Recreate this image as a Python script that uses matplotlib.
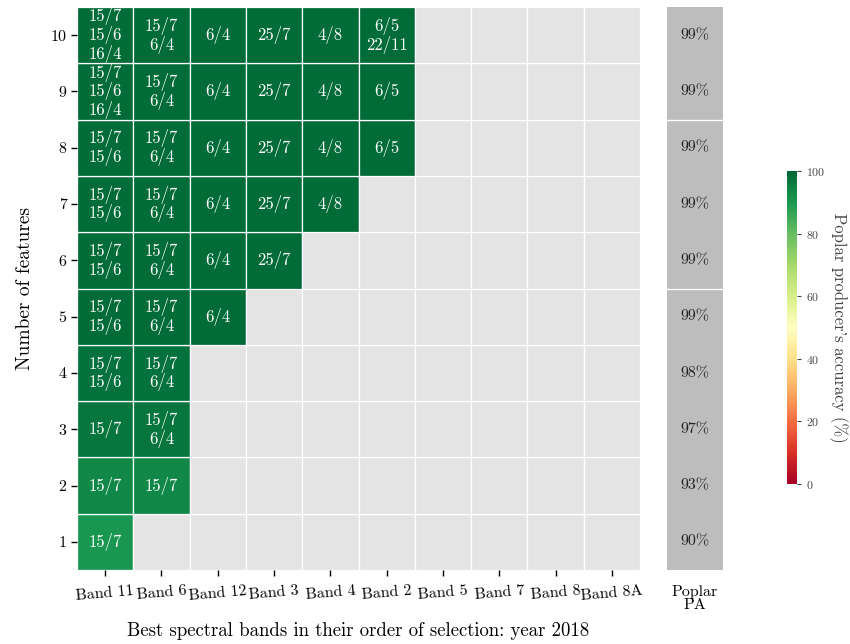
import matplotlib
matplotlib.use("Agg")
import matplotlib.pyplot as plt
import matplotlib as mpl
import numpy as np

plt.rcParams["font.family"] = ["cmr10", "DejaVu Serif"]
plt.rcParams["mathtext.fontset"] = "cm"
plt.rcParams["axes.formatter.use_mathtext"] = True

bands = ["Band 11", "Band 6", "Band 12", "Band 3", "Band 4",
         "Band 2", "Band 5", "Band 7", "Band 8", "Band 8A"]
n_features = [1, 2, 3, 4, 5, 6, 7, 8, 9, 10]
poplar_pa = [90, 93, 97, 98, 99, 99, 99, 99, 99, 99]

# selected dates (day/month) per band, one list per number of features
cell_labels = [
    ["15/7"],
    ["15/7", "15/7"],
    ["15/7", "15/7\n6/4"],
    ["15/7\n15/6", "15/7\n6/4"],
    ["15/7\n15/6", "15/7\n6/4", "6/4"],
    ["15/7\n15/6", "15/7\n6/4", "6/4", "25/7"],
    ["15/7\n15/6", "15/7\n6/4", "6/4", "25/7", "4/8"],
    ["15/7\n15/6", "15/7\n6/4", "6/4", "25/7", "4/8", "6/5"],
    ["15/7\n15/6\n16/4", "15/7\n6/4", "6/4", "25/7", "4/8", "6/5"],
    ["15/7\n15/6\n16/4", "15/7\n6/4", "6/4", "25/7", "4/8", "6/5\n22/11"],
]

cmap = plt.get_cmap("RdYlGn")
norm = mpl.colors.Normalize(vmin=0, vmax=100)

fig = plt.figure(figsize=(8.5, 6.44), dpi=100)
W, H = 850, 644
ax = fig.add_axes([77 / W, 1 - 570 / H, 563 / W, 563 / H])
ax_pa = fig.add_axes([667 / W, 1 - 570 / H, 56 / W, 563 / H])
cax = fig.add_axes([787 / W, 1 - 484 / H, 10 / W, 313 / H])

nb = len(bands)
nr = len(n_features)
for i, (nf, labels, pa) in enumerate(zip(n_features, cell_labels, poplar_pa)):
    for j in range(nb):
        if j < len(labels):
            fc = cmap(norm(pa))
        else:
            fc = "#e4e4e4"
        ax.add_patch(plt.Rectangle((j, i), 1, 1, facecolor=fc,
                                   edgecolor="white", linewidth=0.9))
        if j < len(labels):
            ax.text(j + 0.5, i + 0.5, labels[j], ha="center", va="center",
                    color="white", fontsize=12, linespacing=1.05)

ax.set_xlim(0, nb)
ax.set_ylim(0, nr)
ax.set_xticks(np.arange(nb) + 0.5)
ax.set_xticklabels(bands, rotation=5, fontsize=11.5)
ax.set_yticks(np.arange(nr) + 0.5)
ax.set_yticklabels([str(n) for n in n_features], fontsize=11.5)
ax.tick_params(length=4, width=1)
ax.tick_params(axis="x", pad=6)
for s in ax.spines.values():
    s.set_visible(False)
ax.set_ylabel("Number of features", fontsize=14, labelpad=12)
ax.set_xlabel("Best spectral bands in their order of selection: year 2018",
              fontsize=13.5, labelpad=14)

# poplar PA column
ax_pa.add_patch(plt.Rectangle((0, 0), 1, nr, facecolor="#bdbdbd", edgecolor="none"))
for i, pa in enumerate(poplar_pa):
    ax_pa.text(0.5, i + 0.5, f"{pa}%", ha="center", va="center",
               color="#222222", fontsize=11.5)
for y in [5, 8]:
    ax_pa.axhline(y, color="white", linewidth=1.0)
ax_pa.set_xlim(0, 1)
ax_pa.set_ylim(0, nr)
ax_pa.set_xticks([0.5])
ax_pa.set_xticklabels(["Poplar\nPA"], fontsize=11.5, linespacing=0.95)
ax_pa.set_yticks([])
ax_pa.tick_params(length=0, pad=11)
for s in ax_pa.spines.values():
    s.set_visible(False)

cb = mpl.colorbar.ColorbarBase(cax, cmap=cmap, norm=norm)
cb.set_ticks([0, 20, 40, 60, 80, 100])
cb.ax.tick_params(labelsize=8.5, length=3, colors="#444444")
cb.outline.set_visible(False)
cb.set_label("Poplar producer's accuracy (%)", rotation=270, labelpad=16,
             fontsize=12, color="#444444")

fig.savefig("out.png", dpi=100)
